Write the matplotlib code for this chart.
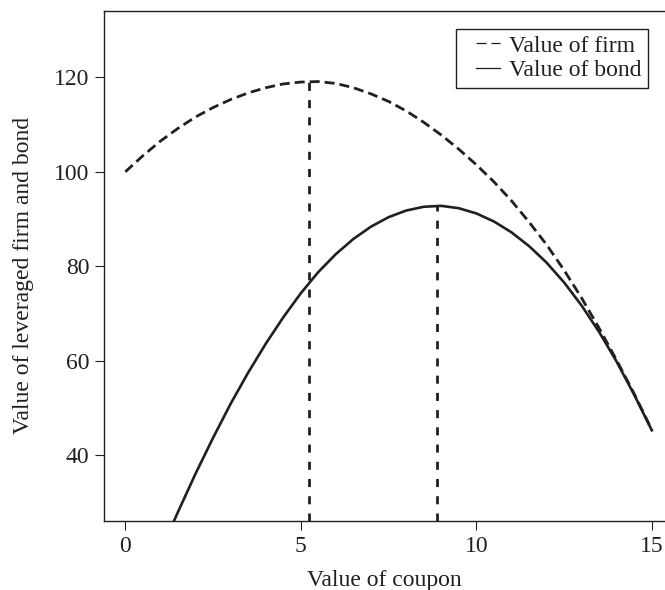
# Leveraged firm vs bond value as a function of the coupon
import matplotlib
matplotlib.use('Agg')
import matplotlib.pyplot as plt
from matplotlib.lines import Line2D
from matplotlib.legend_handler import HandlerLine2D

# ---------- Data ----------
firm_x = [0, 0.5, 1, 1.5, 2, 2.5, 3, 3.5, 4, 4.5, 5, 5.5, 6, 6.5, 7, 7.5,
          8, 8.5, 9, 9.5, 10, 10.5, 11, 11.5, 12, 12.5, 13, 13.5, 14, 14.5, 15]
firm_y = [100.0, 103.4, 106.5, 109.2, 111.6, 113.6, 115.3, 116.7, 117.8, 118.6,
          119.0, 119.1, 118.7, 117.8, 116.5, 114.9, 112.9, 110.5, 107.8, 104.8,
          101.5, 97.9, 93.9, 89.4, 84.6, 79.2, 73.3, 66.9, 60.1, 53.0, 45.4]

bond_x = [1.35, 1.5, 2, 2.5, 3, 3.5, 4, 4.5, 5, 5.5, 6, 6.5, 7, 7.5, 8, 8.5,
          9, 9.5, 10, 10.5, 11, 11.5, 12, 12.5, 13, 13.5, 14, 14.5, 15]
bond_y = [25.5, 28.0, 36.1, 43.7, 50.9, 57.5, 63.6, 69.2, 74.3, 78.8, 82.6,
          85.8, 88.4, 90.4, 91.8, 92.6, 92.8, 92.3, 91.2, 89.5, 87.2, 84.3,
          80.8, 76.6, 71.7, 66.1, 59.8, 52.8, 45.3]

# optimal coupons (vertical markers) and the value at each peak
peak_x = [5.22, 8.88]
peak_y = [119.1, 92.8]

x_ticks = [0, 5, 10, 15]
y_ticks = [40, 60, 80, 100, 120]

INK = '#231f20'

# ---------- Plot ----------
plt.rcParams['font.family'] = ['Liberation Serif', 'DejaVu Serif']
plt.rcParams['font.size'] = 17

fig = plt.figure(figsize=(6.65, 5.9), dpi=100)
ax = fig.add_axes([0.1564, 0.1164, 0.8436, 0.8649])

ax.set_xlim(-0.607, 15.376)
ax.set_ylim(26.03, 134.03)

ax.plot(firm_x, firm_y, color=INK, lw=2.0, dashes=(3.6, 1.8))
ax.plot(bond_x, bond_y, color=INK, lw=1.9)
ax.vlines(peak_x, ax.get_ylim()[0], peak_y, colors=INK, lw=2.0,
          linestyles=[(0, (2.9, 3.3))])

ax.set_xticks(x_ticks)
ax.set_yticks(y_ticks)
ax.tick_params(direction='out', length=6.5, width=0.8, colors=INK,
               labelcolor=INK, pad=4)
for side in ['left', 'bottom', 'top']:
    ax.spines[side].set_linewidth(1.0)
    ax.spines[side].set_color(INK)
ax.spines['right'].set_visible(False)

ax.set_xlabel('Value of coupon', color=INK)
ax.set_ylabel('Value of leveraged firm and bond', color=INK)
ax.xaxis.label.set_va('center')
ax.yaxis.label.set_va('center')
ax.xaxis.set_label_coords(0.5, -0.116)
ax.yaxis.set_label_coords(-0.144, 0.482)

# ---------- Legend (thin proxy lines, as in the figure) ----------
handles = [Line2D([], [], color=INK, lw=0.9, dashes=(8, 4)),
           Line2D([], [], color=INK, lw=0.9)]
leg = ax.legend(handles, ['Value of firm', 'Value of bond'],
                loc='upper center', bbox_to_anchor=(552 / 665, 1 - 28.5 / 590),
                bbox_transform=fig.transFigure, borderaxespad=0,
                fancybox=False, framealpha=1, edgecolor=INK,
                borderpad=0.28, labelspacing=0.13, handlelength=2.19,
                handletextpad=-0.19,
                handler_map={Line2D: HandlerLine2D(marker_pad=0.57, numpoints=2)})
leg.get_frame().set_linewidth(1.0)
for t in leg.get_texts():
    t.set_color(INK)

fig.savefig('out.png', dpi=100)
